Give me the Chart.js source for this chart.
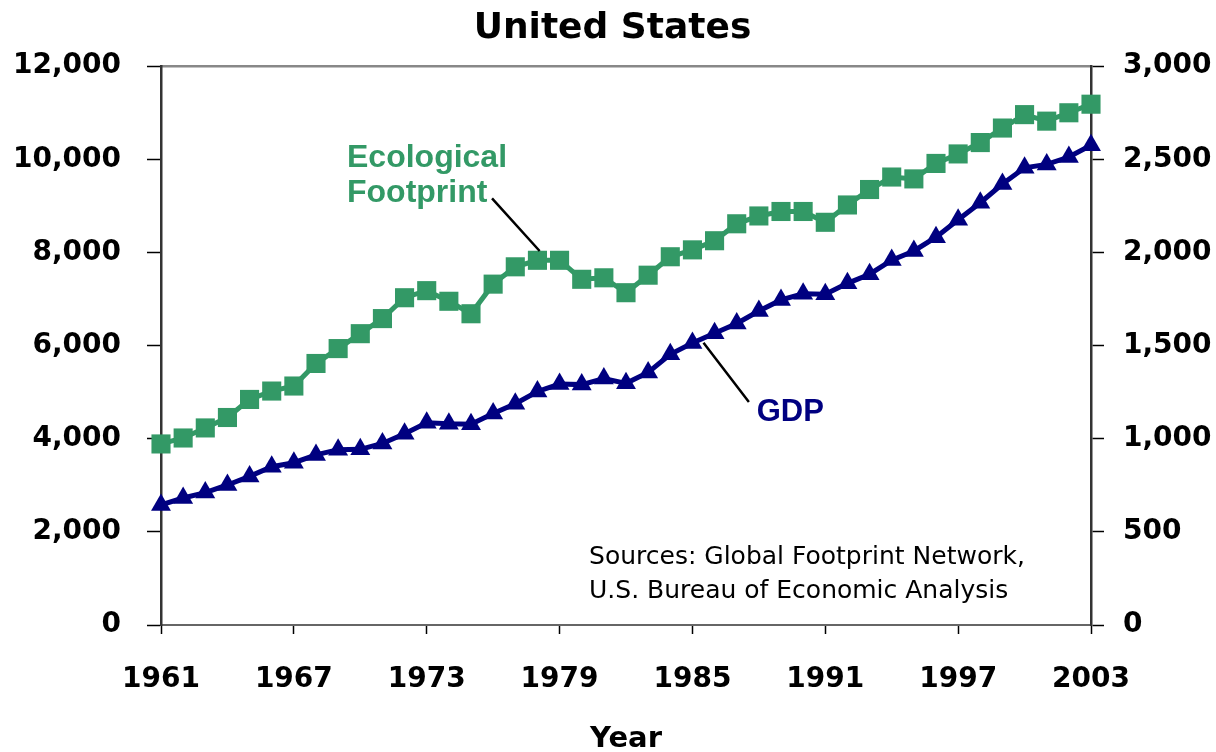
<!DOCTYPE html>
<html>
<head>
<meta charset="utf-8">
<script src="https://cdn.jsdelivr.net/npm/chart.js@4.4.1/dist/chart.umd.min.js"></script>
<style>
html, body { margin: 0; padding: 0; background: #fff; }
#wrap { width: 1216px; height: 752px; position: relative; }
</style>
</head>
<body>
<div id="wrap"><canvas id="chart"></canvas></div>
<script>
// years on the x axis
const years = [1961, 1962, 1963, 1964, 1965, 1966, 1967, 1968, 1969, 1970,
  1971, 1972, 1973, 1974, 1975, 1976, 1977, 1978, 1979, 1980,
  1981, 1982, 1983, 1984, 1985, 1986, 1987, 1988, 1989, 1990,
  1991, 1992, 1993, 1994, 1995, 1996, 1997, 1998, 1999, 2000,
  2001, 2002, 2003];

// GDP, left axis
const gdp = [2578, 2727, 2844, 3007, 3191, 3399, 3485, 3653, 3765, 3772,
  3899, 4105, 4342, 4320, 4311, 4541, 4751, 5015, 5173, 5162,
  5292, 5189, 5424, 5814, 6054, 6264, 6475, 6743, 6981, 7113,
  7101, 7337, 7533, 7836, 8032, 8329, 8704, 9067, 9470, 9817,
  9891, 10049, 10301];

// Ecological Footprint, right axis
const footprint = [972, 1004, 1058, 1114, 1211, 1256, 1283, 1404, 1484, 1564,
  1645, 1757, 1795, 1738, 1671, 1830, 1923, 1958, 1958, 1856,
  1864, 1784, 1878, 1977, 2014, 2063, 2154, 2196, 2220, 2220,
  2162, 2255, 2338, 2405, 2395, 2478, 2529, 2590, 2668, 2740,
  2705, 2750, 2796];

const xTicks = [1961, 1967, 1973, 1979, 1985, 1991, 1997, 2003];
const leftTicks = [0, 2000, 4000, 6000, 8000, 10000, 12000];
const rightTicks = [0, 500, 1000, 1500, 2000, 2500, 3000];

const GREEN = '#339966';
const NAVY = '#000080';
const tickFont = { family: 'DejaVu Sans', size: 28, weight: 'bold' };

const pts = arr => arr.map((v, i) => ({ x: years[i], y: v }));

// text labels with leader lines, placed in data units
const notes = {
  id: 'notes',
  afterDatasetsDraw(chart) {
    const { ctx, scales } = chart;
    const x = scales.x, yl = scales.y, yr = scales.y2;
    ctx.save();
    ctx.textBaseline = 'middle';
    ctx.textAlign = 'left';

    ctx.font = 'bold 32px "Liberation Sans"';
    ctx.fillStyle = GREEN;
    ctx.fillText('Ecological', x.getPixelForValue(1969.4), yr.getPixelForValue(2505));
    ctx.fillText('Footprint', x.getPixelForValue(1969.4), yr.getPixelForValue(2318));
    ctx.font = 'bold 31px "Liberation Sans"';
    ctx.fillStyle = NAVY;
    ctx.fillText('GDP', x.getPixelForValue(1987.9), yl.getPixelForValue(4560));

    ctx.strokeStyle = '#000';
    ctx.lineWidth = 2.5;
    ctx.beginPath();
    ctx.moveTo(x.getPixelForValue(1975.95), yr.getPixelForValue(2290));
    ctx.lineTo(x.getPixelForValue(1978.1), yr.getPixelForValue(2008));
    ctx.moveTo(x.getPixelForValue(1985.5), yl.getPixelForValue(6060));
    ctx.lineTo(x.getPixelForValue(1987.55), yl.getPixelForValue(4790));
    ctx.stroke();

    ctx.font = '25px "DejaVu Sans"';
    ctx.fillStyle = '#000';
    ctx.fillText('Sources: Global Footprint Network,', x.getPixelForValue(1980.33), yl.getPixelForValue(1440));
    ctx.fillText('U.S. Bureau of Economic Analysis', x.getPixelForValue(1980.33), yl.getPixelForValue(720));
    ctx.restore();
  }
};

new Chart(document.getElementById('chart'), {
  type: 'line',
  data: {
    datasets: [{
      label: 'Ecological Footprint',
      data: pts(footprint),
      yAxisID: 'y2',
      borderColor: GREEN,
      backgroundColor: GREEN,
      borderWidth: 5,
      pointStyle: 'rect',
      pointRadius: 13.5,
      pointBorderWidth: 0,
      clip: false,
      tension: 0
    }, {
      label: 'GDP',
      data: pts(gdp),
      yAxisID: 'y',
      borderColor: NAVY,
      backgroundColor: NAVY,
      borderWidth: 5,
      pointStyle: 'triangle',
      pointRadius: 11.5,
      pointBorderWidth: 0,
      clip: false,
      tension: 0
    }]
  },
  options: {
    responsive: true,
    maintainAspectRatio: false,
    animation: false,
    layout: { padding: { left: 13, right: 4, top: 0, bottom: 0 } },
    plugins: {
      legend: { display: false },
      tooltip: { enabled: false },
      title: {
        display: true,
        text: 'United States',
        color: '#000',
        font: { family: 'DejaVu Sans', size: 36, weight: 'bold' },
        padding: { top: 7, bottom: 8 }
      }
    },
    scales: {
      x: {
        type: 'linear',
        min: 1961,
        max: 2003,
        afterBuildTicks: s => { s.ticks = xTicks.map(v => ({ value: v })); },
        afterFit: s => { s.height = 127; },
        ticks: { color: '#000', font: tickFont, padding: 29, callback: v => String(v), maxRotation: 0 },
        grid: { drawOnChartArea: false, color: '#000', tickLength: 9, tickWidth: 1.5 },
        border: { color: '#666', width: 2 },
        title: {
          display: true,
          text: 'Year',
          color: '#000',
          font: { family: 'DejaVu Sans', size: 29, weight: 'bold' },
          padding: { top: 0, bottom: -5 }
        }
      },
      xTop: {
        type: 'linear',
        position: 'top',
        min: 1961,
        max: 2003,
        ticks: { display: false },
        grid: { display: false },
        border: { color: '#888', width: 2.5 }
      },
      y: {
        position: 'left',
        min: 0,
        max: 12000,
        afterBuildTicks: s => { s.ticks = leftTicks.map(v => ({ value: v })); },
        afterFit: s => { s.width = 148; },
        ticks: { color: '#000', font: tickFont, padding: 26, callback: v => v.toLocaleString('en-US') },
        grid: { drawOnChartArea: false, color: '#000', tickLength: 14, tickWidth: 1.5 },
        border: { color: '#333', width: 2.5 }
      },
      y2: {
        position: 'right',
        min: 0,
        max: 3000,
        afterBuildTicks: s => { s.ticks = rightTicks.map(v => ({ value: v })); },
        afterFit: s => { s.width = 121; },
        ticks: { color: '#000', font: tickFont, padding: 19, callback: v => v.toLocaleString('en-US') },
        grid: { drawOnChartArea: false, color: '#000', tickLength: 13, tickWidth: 1.5 },
        border: { color: '#333', width: 2.5 }
      }
    }
  },
  plugins: [notes]
});
</script>
</body>
</html>
